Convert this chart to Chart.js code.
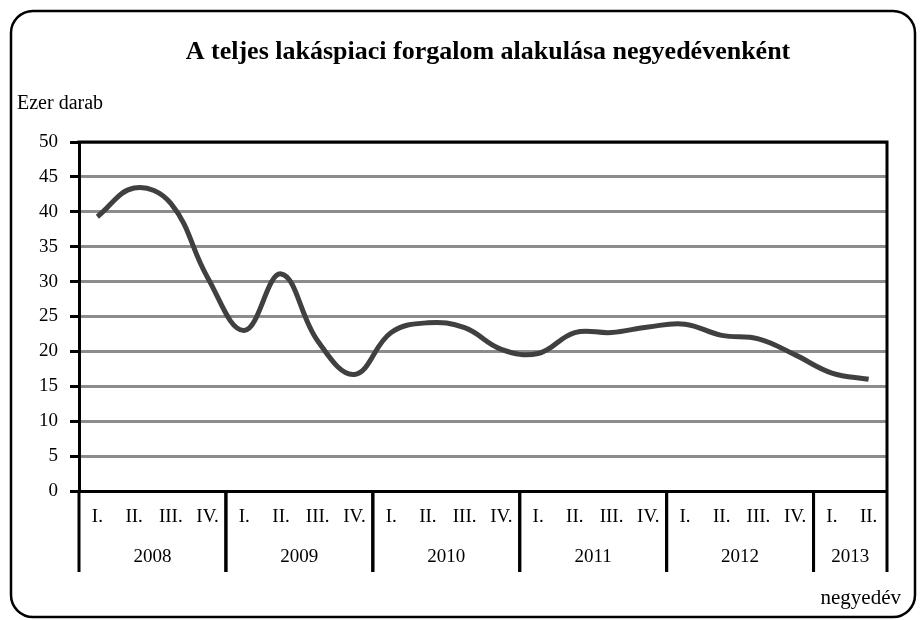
<!DOCTYPE html>
<html><head><meta charset="utf-8">
<script src="https://cdn.jsdelivr.net/npm/chart.js@4/dist/chart.umd.min.js"></script>
<style>html,body{margin:0;padding:0;background:#fff}#wrap{width:920px;height:620px;position:relative}</style>
</head><body><div id="wrap"><canvas id="c" width="920" height="620"></canvas></div>
<script>
const chartTitle = 'A teljes lakáspiaci forgalom alakulása negyedévenként';
const yAxisTitle = 'Ezer darab';
const xAxisTitle = 'negyedév';
const quarterLabels = ['I.','II.','III.','IV.','I.','II.','III.','IV.','I.','II.','III.','IV.','I.','II.','III.','IV.','I.','II.','III.','IV.','I.','II.'];
const quarterYears = ['2008','2008','2008','2008','2009','2009','2009','2009','2010','2010','2010','2010','2011','2011','2011','2011','2012','2012','2012','2012','2013','2013'];
const salesThousand = [39.3,43.4,41.2,30.6, 23.0,31.1,21.5,16.7, 22.7,24.1,23.4,20.3, 19.7,22.7,22.7,23.5, 23.9,22.3,21.8,19.5, 16.9,16.0];
const yMin = 0, yMax = 50, yStep = 5;

const SERIF = '"Liberation Serif", "Times New Roman", serif';

const decor = {
  id: 'decor',
  beforeDraw(chart) {
    const ctx = chart.ctx;
    ctx.save();
    ctx.fillStyle = '#fff';
    ctx.fillRect(0, 0, chart.width, chart.height);
    ctx.restore();
  },
  afterDraw(chart) {
    const { ctx, chartArea: a, scales: { x } } = chart;
    ctx.save();
    ctx.strokeStyle = '#000';
    ctx.lineWidth = 3;
    ctx.beginPath();
    ctx.moveTo(a.left - 1.5, a.top);
    ctx.lineTo(a.right, a.top);
    ctx.lineTo(a.right, a.bottom);
    ctx.stroke();

    // year groups
    const groups = [];
    quarterYears.forEach((y, i) => {
      const g = groups[groups.length - 1];
      if (!g || g.y !== y) groups.push({ y, s: i, e: i }); else g.e = i;
    });
    const half = (x.getPixelForValue(1) - x.getPixelForValue(0)) / 2;
    const lineBottom = a.bottom + 81;
    ctx.font = '19px ' + SERIF;
    ctx.fillStyle = '#000';
    ctx.textAlign = 'center';
    ctx.textBaseline = 'middle';
    groups.forEach(g => {
      const l = x.getPixelForValue(g.s) - half;
      const r = x.getPixelForValue(g.e) + half;
      ctx.beginPath();
      ctx.moveTo(l, a.bottom); ctx.lineTo(l, lineBottom);
      ctx.moveTo(r, a.bottom); ctx.lineTo(r, lineBottom);
      ctx.stroke();
      ctx.fillText(g.y, (l + r) / 2, a.bottom + 66);
    });

    // titles
    ctx.font = 'bold 26px ' + SERIF;
    ctx.fillText(chartTitle, 488, 52);
    ctx.font = '20px ' + SERIF;
    ctx.textAlign = 'left';
    ctx.fillText(yAxisTitle, 17, 104);
    ctx.font = '21px ' + SERIF;
    ctx.textAlign = 'right';
    ctx.fillText(xAxisTitle, 901, 598);

    // outer rounded frame
    ctx.lineWidth = 2.5;
    ctx.beginPath();
    ctx.roundRect(11, 11, 904, 606, 22);
    ctx.stroke();
    ctx.restore();
  }
};

new Chart(document.getElementById('c'), {
  type: 'line',
  data: {
    labels: quarterLabels,
    datasets: [{
      data: salesThousand,
      borderColor: '#404040',
      borderWidth: 5,
      tension: 0.4,
      pointRadius: 0,
      fill: false
    }]
  },
  options: {
    responsive: false,
    animation: false,
    events: [],
    layout: { padding: { top: 142, right: 33, bottom: 0, left: 0 } },
    plugins: { legend: { display: false }, title: { display: false }, tooltip: { enabled: false } },
    scales: {
      x: {
        type: 'category',
        offset: true,
        grid: { display: false, drawTicks: false },
        border: { display: true, color: '#000', width: 3 },
        ticks: { color: '#000', font: { family: SERIF, size: 19 }, maxRotation: 0, autoSkip: false, padding: 15 },
        afterFit(s) { s.height = 129; }
      },
      y: {
        min: yMin, max: yMax,
        ticks: { stepSize: yStep, color: '#000', font: { family: SERIF, size: 19 }, padding: 12 },
        grid: { color: '#8c8c8c', lineWidth: 3, tickLength: 9, tickColor: '#000' },
        border: { display: true, color: '#000', width: 3 },
        afterFit(s) { s.width = 79; }
      }
    }
  },
  plugins: [decor]
});
</script>
</body></html>
